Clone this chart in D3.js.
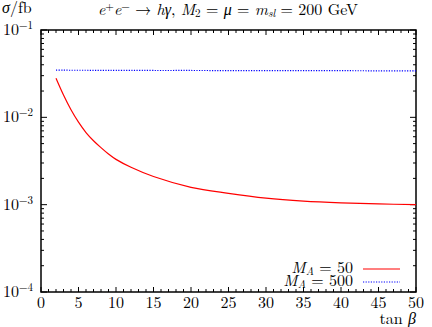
<!DOCTYPE html>
<html>
<head>
<meta charset="utf-8">
<script src="https://cdn.jsdelivr.net/npm/d3@7"></script>
<style>
  body { margin: 0; background: #fff; }
  svg { display: block; }
</style>
</head>
<body>
<svg id="chart" width="432" height="327"></svg>
<script>
	"use strict";

	/***** Data *****/
	var tanBeta = [2, 3, 4, 5, 6, 7, 8, 9, 10, 12, 15, 20, 25, 30, 35, 40, 45, 50];
	var sigmaMA50 = [0.028, 0.018, 0.0122, 0.0088, 0.0067, 0.0054, 0.0045, 0.0038, 0.0033, 0.00268,
		0.0021, 0.00158, 0.00135, 0.00119, 0.0011, 0.00105, 0.00102, 0.001];
	var sigmaMA500 = [0.0347, 0.0347, 0.0346, 0.0346, 0.0346, 0.0345, 0.0345, 0.0345, 0.0345, 0.0345,
		0.0344, 0.0344, 0.0343, 0.0343, 0.0342, 0.0342, 0.0341, 0.0341];
	var xTicks = [0, 5, 10, 15, 20, 25, 30, 35, 40, 45, 50];
	var yTicks = [1e-4, 1e-3, 1e-2, 1e-1];
	var yTickExp = ["\u22124", "\u22123", "\u22122", "\u22121"];

(function () {
	/***** Layout *****/
	const plotLeft = 41, plotRight = 416, plotTop = 30, plotBottom = 292;
	const fontSize = 16;
	const supSize = 11;
	const fontFamily = "Latin Modern Roman, Liberation Serif, serif";

	var svg = d3.select("#chart");

	var x = d3.scaleLinear().domain([0, 50]).range([plotLeft, plotRight]);
	var y = d3.scaleLog().domain([1e-4, 1e-1]).range([plotBottom, plotTop]);

	// every text gets the TeX-like face
	function addText(parent) {
		return parent.append("text")
			.attr("font-family", fontFamily)
			.attr("font-size", fontSize);
	}

	/***** Ticks (mirrored on all four sides) *****/
	var ticks = svg.append("g").attr("stroke", "#000").attr("stroke-width", 1);

	d3.range(0, 51, 1).forEach(function (t) {
		var len = (t % 5 === 0) ? 5 : 3;
		ticks.append("line").attr("x1", x(t)).attr("x2", x(t)).attr("y1", plotBottom).attr("y2", plotBottom - len);
		ticks.append("line").attr("x1", x(t)).attr("x2", x(t)).attr("y1", plotTop).attr("y2", plotTop + len);
	});

	var yMinor = [];
	[1e-4, 1e-3, 1e-2].forEach(function (dec) {
		for (var k = 2; k <= 9; k++) yMinor.push(dec * k);
	});
	yMinor.forEach(function (v) {
		ticks.append("line").attr("x1", plotLeft).attr("x2", plotLeft + 3).attr("y1", y(v)).attr("y2", y(v));
		ticks.append("line").attr("x1", plotRight).attr("x2", plotRight - 3).attr("y1", y(v)).attr("y2", y(v));
	});
	yTicks.forEach(function (v) {
		ticks.append("line").attr("x1", plotLeft).attr("x2", plotLeft + 6).attr("y1", y(v)).attr("y2", y(v));
		ticks.append("line").attr("x1", plotRight).attr("x2", plotRight - 6).attr("y1", y(v)).attr("y2", y(v));
	});

	/***** Frame *****/
	svg.append("rect")
		.attr("x", plotLeft).attr("y", plotTop)
		.attr("width", plotRight - plotLeft).attr("height", plotBottom - plotTop)
		.attr("fill", "none").attr("stroke", "#000").attr("stroke-width", 1.5);

	/***** Tick labels *****/
	svg.append("g").selectAll("text").data(xTicks).join("text")
		.attr("font-family", fontFamily)
		.attr("font-size", fontSize)
		.attr("x", function (d) { return x(d); })
		.attr("y", 308)
		.attr("text-anchor", "middle")
		.text(function (d) { return d; });

	var yLab = svg.append("g").selectAll("text").data(yTicks).join("text")
		.attr("font-family", fontFamily)
		.attr("font-size", fontSize)
		.attr("x", 33)
		.attr("y", function (d) { return y(d) + 5; })
		.attr("text-anchor", "end");
	yLab.append("tspan").text("10");
	yLab.append("tspan")
		.attr("dy", -6).attr("font-size", supSize)
		.text(function (d, i) { return yTickExp[i]; });

	/***** Curves *****/
	var line = d3.line()
		.x(function (d) { return x(d[0]); })
		.y(function (d) { return y(d[1]); })
		.curve(d3.curveCatmullRom.alpha(0.5));

	svg.append("path")
		.attr("d", line(d3.zip(tanBeta, sigmaMA50)))
		.attr("fill", "none").attr("stroke", "#ff0000").attr("stroke-width", 1.2);

	svg.append("path")
		.attr("d", line(d3.zip(tanBeta, sigmaMA500)))
		.attr("fill", "none").attr("stroke", "#0000ff").attr("stroke-width", 1.2)
		.attr("stroke-dasharray", "1.2,1.4");

	/***** Legend *****/
	function legendLabel(yPos, value) {
		var t = addText(svg)
			.attr("x", 353).attr("y", yPos)
			.attr("text-anchor", "end");
		t.append("tspan").attr("font-style", "italic").text("M");
		t.append("tspan").attr("font-size", supSize).attr("font-style", "italic").attr("dy", 2).text("A");
		t.append("tspan").attr("dy", -2).text(" = " + value);
	}
	legendLabel(273, "50");
	svg.append("line").attr("x1", 363).attr("x2", 400).attr("y1", 269).attr("y2", 269)
		.attr("stroke", "#ff0000").attr("stroke-width", 1.2);
	legendLabel(286, "500");
	svg.append("line").attr("x1", 363).attr("x2", 400).attr("y1", 282).attr("y2", 282)
		.attr("stroke", "#0000ff").attr("stroke-width", 1.2).attr("stroke-dasharray", "1.2,1.4");

	/***** Axis titles *****/
	var xt = addText(svg)
		.attr("x", 416).attr("y", 324)
		.attr("text-anchor", "end");
	xt.append("tspan").text("tan ");
	xt.append("tspan").attr("font-style", "italic").text("\u03b2");

	var yt = addText(svg)
		.attr("x", 2).attr("y", 13);
	yt.append("tspan").attr("font-style", "italic").text("\u03c3");
	yt.append("tspan").text("/fb");

	/***** Title *****/
	var title = addText(svg)
		.attr("x", 228).attr("y", 15)
		.attr("text-anchor", "middle");
	title.append("tspan").attr("font-style", "italic").text("e");
	title.append("tspan").attr("font-size", supSize).attr("dy", -5).text("+");
	title.append("tspan").attr("font-style", "italic").attr("dy", 5).text("e");
	title.append("tspan").attr("font-size", supSize).attr("dy", -5).text("\u2212");
	title.append("tspan").attr("dy", 5).text(" \u2192 ");
	title.append("tspan").attr("font-style", "italic").text("h\u03b3");
	title.append("tspan").text(", ");
	title.append("tspan").attr("font-style", "italic").text("M");
	title.append("tspan").attr("font-size", supSize).attr("dy", 2).text("2");
	title.append("tspan").attr("dy", -2).text(" = ");
	title.append("tspan").attr("font-style", "italic").text("\u03bc");
	title.append("tspan").text(" = ");
	title.append("tspan").attr("font-style", "italic").text("m");
	title.append("tspan").attr("font-size", supSize).attr("font-style", "italic").attr("dy", 2).text("sl");
	title.append("tspan").attr("dy", -2).text(" = 200 GeV");
})();
</script>
</body>
</html>
